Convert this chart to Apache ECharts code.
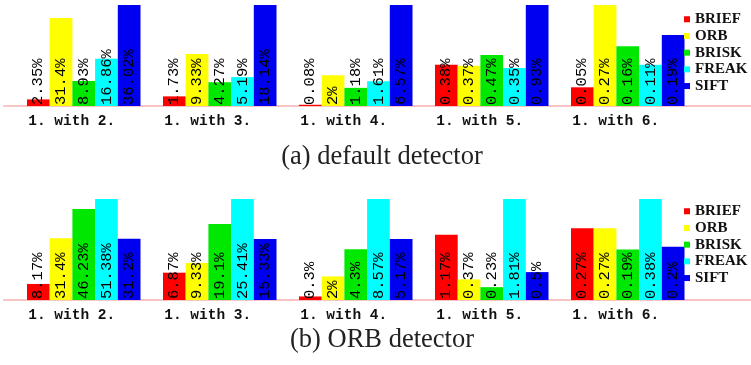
<!DOCTYPE html>
<html>
<head>
<meta charset="utf-8">
<script src="https://cdn.jsdelivr.net/npm/echarts@6/dist/echarts.min.js"></script>
<style>html,body{margin:0;padding:0;background:#fff}#c{width:751px;height:365px}</style>
</head>
<body>
<div id="c"></div>
<script>
var categories = ['1. with 2.', '1. with 3.', '1. with 4.', '1. with 5.', '1. with 6.'];
var detectors = ['BRIEF', 'ORB', 'BRISK', 'FREAK', 'SIFT'];
var colors = ['#ff0000', '#ffff00', '#00e800', '#00ffff', '#0000f0'];
var captions = ['(a) default detector', '(b) ORB detector'];

// panel (a): default detector, values in %
var defBRIEF = [2.35, 1.73, 0.08, 0.38, 0.05];
var defORB   = [31.4, 9.33, 2, 0.37, 0.27];
var defBRISK = [8.93, 4.27, 1.18, 0.47, 0.16];
var defFREAK = [16.86, 5.19, 1.61, 0.35, 0.11];
var defSIFT  = [36.02, 18.14, 6.57, 0.93, 0.19];

// panel (b): ORB detector, values in %
var orbBRIEF = [8.17, 6.87, 0.3, 1.17, 0.27];
var orbORB   = [31.4, 9.33, 2, 0.37, 0.27];
var orbBRISK = [46.23, 19.1, 4.3, 0.23, 0.19];
var orbFREAK = [51.38, 25.41, 8.57, 1.81, 0.38];
var orbSIFT  = [31.2, 15.33, 5.17, 0.5, 0.2];

var panels = [
  [defBRIEF, defORB, defBRISK, defFREAK, defSIFT],
  [orbBRIEF, orbORB, orbBRISK, orbFREAK, orbSIFT]
];

var panelTop = [5, 199];
var plotH = 101;
var groupLeft0 = 27, groupStep = 136, groupW = 113.5;
var barW = 22.7;

var grids = [], xAxes = [], yAxes = [], series = [], legends = [], titles = [];
var gi = 0;

panels.forEach(function (pdata, p) {
  // baseline grid (full width)
  grids.push({left: 4, right: 0, top: panelTop[p], height: plotH});
  xAxes.push({gridIndex: gi, type: 'value', min: 0, max: 1,
    axisLine: {show: true, lineStyle: {color: '#f8c4c4', width: 2}},
    axisTick: {show: false}, axisLabel: {show: false}, splitLine: {show: false}});
  yAxes.push({gridIndex: gi, type: 'value', show: false, splitLine: {show: false}});
  gi++;

  categories.forEach(function (cat, g) {
    grids.push({left: groupLeft0 + g * groupStep, width: groupW, top: panelTop[p], height: plotH});
    xAxes.push({gridIndex: gi, type: 'category', data: [cat],
      axisLine: {show: false}, axisTick: {show: false}, splitLine: {show: false},
      axisLabel: {margin: 8, color: '#111', fontFamily: 'Liberation Mono', fontWeight: 'bold',
        fontSize: 14.5, padding: [0, 24, 0, 0]}});
    yAxes.push({gridIndex: gi, type: 'value', min: 0, max: 'dataMax', show: false, splitLine: {show: false}});
    detectors.forEach(function (d, k) {
      series.push({
        type: 'bar', name: d, xAxisIndex: gi, yAxisIndex: gi,
        data: [pdata[k][g]], barWidth: barW, barGap: '0%',
        itemStyle: {color: colors[k]}, z: 3,
        label: {show: true, position: 'insideBottom', rotate: 90, align: 'left', verticalAlign: 'middle',
          distance: 1, color: '#000', fontFamily: 'Liberation Mono', fontSize: 15.5,
          formatter: function (v) { return v.value + '%'; }}
      });
    });
    gi++;
  });

  legends.push({orient: 'vertical', left: 679, top: p === 0 ? 6 : 198, padding: [5, 5, 5, 5],
    data: detectors, icon: 'rect', itemWidth: 6, itemHeight: 6, itemGap: 0.2, selectedMode: false,
    textStyle: {fontFamily: 'Liberation Serif', fontWeight: 'bold', fontSize: 15, lineHeight: 16.5, color: '#111'}});

  titles.push({text: captions[p], left: 377, top: p === 0 ? 139 : 322, textAlign: 'center',
    textStyle: {fontFamily: 'Liberation Serif', fontWeight: 'normal', fontSize: 26.5, color: '#222'}});
});

var chart = echarts.init(document.getElementById('c'), null, {renderer: 'canvas'});
chart.setOption({
  animation: false,
  color: colors,
  title: titles,
  legend: legends,
  grid: grids,
  xAxis: xAxes,
  yAxis: yAxes,
  series: series
});
</script>
</body>
</html>
